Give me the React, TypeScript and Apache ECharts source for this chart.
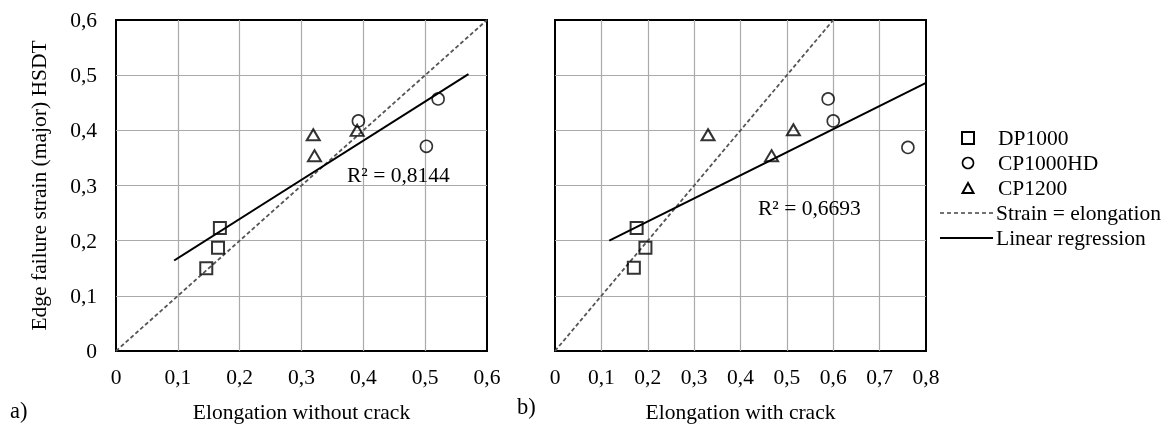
import React, { useEffect, useRef } from "react";
import * as echarts from "echarts";

// ---- data ----
const xTicksLeft = [0, 0.1, 0.2, 0.3, 0.4, 0.5, 0.6];
const xTicksRight = [0, 0.1, 0.2, 0.3, 0.4, 0.5, 0.6, 0.7, 0.8];
const yTicks = [0, 0.1, 0.2, 0.3, 0.4, 0.5, 0.6];

const dp1000Without = [[0.146, 0.150], [0.165, 0.187], [0.168, 0.223]];
const cp1000hdWithout = [[0.392, 0.417], [0.521, 0.457], [0.502, 0.371]];
const cp1200Without = [[0.319, 0.392], [0.321, 0.354], [0.390, 0.400]];

const dp1000With = [[0.170, 0.151], [0.195, 0.187], [0.176, 0.223]];
const cp1000hdWith = [[0.589, 0.457], [0.600, 0.417], [0.761, 0.369]];
const cp1200With = [[0.330, 0.392], [0.467, 0.354], [0.514, 0.401]];

const strainEqualsElongation = [[0, 0], [0.6, 0.6]];
const regressionWithout = [[0.094, 0.164], [0.570, 0.502]];
const regressionWith = [[0.117, 0.200], [0.8, 0.486]];

const r2Without = "R² = 0,8144";
const r2With = "R² = 0,6693";

const legendNames = ["DP1000", "CP1000HD", "CP1200", "Strain = elongation", "Linear regression"];

const FONT = "'Liberation Serif', 'Times New Roman', serif";
const FS = 21.5;

const fmt = (v: number) => String(Math.round(v * 10) / 10).replace(".", ",");

export default function App() {
  const ref = useRef<HTMLDivElement>(null);
  useEffect(() => {
    if (!ref.current) return;
    const chart = echarts.init(ref.current, null, { renderer: "svg" });

    const axisCommon = {
      type: "value" as const,
      interval: 0.1,
      axisTick: { show: false },
      axisLine: { show: false },
      splitLine: { show: true, showMinLine: false, showMaxLine: false, lineStyle: { color: "#aaaaaa", width: 1.2 } },
      axisLabel: { color: "#000", fontFamily: FONT, fontSize: FS, formatter: fmt },
    };

    const scatterStyle = (symbol: string, size: number | number[], bw: number) => ({
      type: "scatter" as const,
      symbol,
      symbolSize: size,
      itemStyle: { color: "rgba(0,0,0,0)", borderColor: "#000", borderWidth: bw },
      z: 5,
    });

    const dashed = (i: number) => ({
      type: "line" as const,
      xAxisIndex: i,
      yAxisIndex: i,
      data: strainEqualsElongation,
      symbol: "none",
      lineStyle: { color: "#555", width: 1.8, type: [4, 2.5] },
      z: 3,
    });
    const regLine = (i: number, d: number[][]) => ({
      type: "line" as const,
      xAxisIndex: i,
      yAxisIndex: i,
      data: d,
      symbol: "none",
      lineStyle: { color: "#000", width: 2 },
      z: 4,
    });

    const lx = 940, tx = 998;
    const legendY = [138, 163, 188, 213, 238];

    chart.setOption({
      animation: false,
      grid: [
        { left: 116, top: 20, width: 371, height: 338, show: true, borderColor: "#000", borderWidth: 2, backgroundColor: "transparent" },
        { left: 555, top: 20, width: 371, height: 338, show: true, borderColor: "#000", borderWidth: 2, backgroundColor: "transparent" },
      ],
      xAxis: [
        {
          ...axisCommon, gridIndex: 0, min: xTicksLeft[0], max: xTicksLeft[xTicksLeft.length - 1],
          axisLabel: { ...axisCommon.axisLabel, margin: 15 },
          name: "Elongation without crack", nameLocation: "middle", nameGap: 50,
          nameTextStyle: { color: "#000", fontFamily: FONT, fontSize: FS },
        },
        {
          ...axisCommon, gridIndex: 1, min: xTicksRight[0], max: xTicksRight[xTicksRight.length - 1],
          axisLabel: { ...axisCommon.axisLabel, margin: 15 },
          name: "Elongation with crack", nameLocation: "middle", nameGap: 50,
          nameTextStyle: { color: "#000", fontFamily: FONT, fontSize: FS },
        },
      ],
      yAxis: [
        {
          ...axisCommon, gridIndex: 0, min: yTicks[0], max: yTicks[yTicks.length - 1],
          axisLabel: { ...axisCommon.axisLabel, margin: 19 },
          name: "Edge failure strain (major) HSDT", nameLocation: "middle", nameGap: 66,
          nameTextStyle: { color: "#000", fontFamily: FONT, fontSize: FS },
        },
        {
          ...axisCommon, gridIndex: 1, min: yTicks[0], max: yTicks[yTicks.length - 1],
          axisLabel: { show: false },
        },
      ],
      series: [
        { ...scatterStyle("rect", 12, 2), name: legendNames[0], xAxisIndex: 0, yAxisIndex: 0, data: dp1000Without },
        { ...scatterStyle("circle", 12, 1.6), name: legendNames[1], xAxisIndex: 0, yAxisIndex: 0, data: cp1000hdWithout },
        { ...scatterStyle("triangle", [13, 11], 2), name: legendNames[2], xAxisIndex: 0, yAxisIndex: 0, data: cp1200Without },
        { ...dashed(0), name: legendNames[3] },
        { ...regLine(0, regressionWithout), name: legendNames[4] },
        { ...scatterStyle("rect", 12, 2), name: legendNames[0], xAxisIndex: 1, yAxisIndex: 1, data: dp1000With },
        { ...scatterStyle("circle", 12, 1.6), name: legendNames[1], xAxisIndex: 1, yAxisIndex: 1, data: cp1000hdWith },
        { ...scatterStyle("triangle", [13, 11], 2), name: legendNames[2], xAxisIndex: 1, yAxisIndex: 1, data: cp1200With },
        { ...dashed(1), name: legendNames[3] },
        { ...regLine(1, regressionWith), name: legendNames[4] },
      ],
      graphic: [
        { type: "text", left: 347, top: 164, style: { text: r2Without, font: `${FS}px ${FONT}`, fill: "#000" }, z: 10 },
        { type: "text", left: 758, top: 197, style: { text: r2With, font: `${FS}px ${FONT}`, fill: "#000" }, z: 10 },
        { type: "text", left: 10, top: 399, style: { text: "a)", font: `${FS + 1}px ${FONT}`, fill: "#000" } },
        { type: "text", left: 517, top: 395, style: { text: "b)", font: `${FS + 1}px ${FONT}`, fill: "#000" } },
        // legend
        { type: "rect", shape: { x: 962, y: legendY[0] - 6, width: 12, height: 12 }, style: { fill: "none", stroke: "#000", lineWidth: 2 } },
        { type: "circle", shape: { cx: 968, cy: legendY[1], r: 5.5 }, style: { fill: "none", stroke: "#000", lineWidth: 1.6 } },
        { type: "polygon", shape: { points: [[968, legendY[2] - 5], [973.5, legendY[2] + 5], [962.5, legendY[2] + 5]] }, style: { fill: "none", stroke: "#000", lineWidth: 2 } },
        { type: "line", shape: { x1: lx, y1: legendY[3], x2: 993, y2: legendY[3] }, style: { stroke: "#444", lineWidth: 1.5, lineDash: [4, 3] } },
        { type: "line", shape: { x1: lx, y1: legendY[4], x2: 993, y2: legendY[4] }, style: { stroke: "#000", lineWidth: 2 } },
        ...legendNames.map((n, i) => ({
          type: "text",
          left: i < 3 ? tx : 996,
          top: legendY[i] - 11,
          style: { text: n, font: `${FS}px ${FONT}`, fill: "#000" },
        })),
      ],
    });
    return () => chart.dispose();
  }, []);
  return <div ref={ref} style={{ position: "fixed", left: 0, top: 0, width: 1174, height: 428 }} />;
}
